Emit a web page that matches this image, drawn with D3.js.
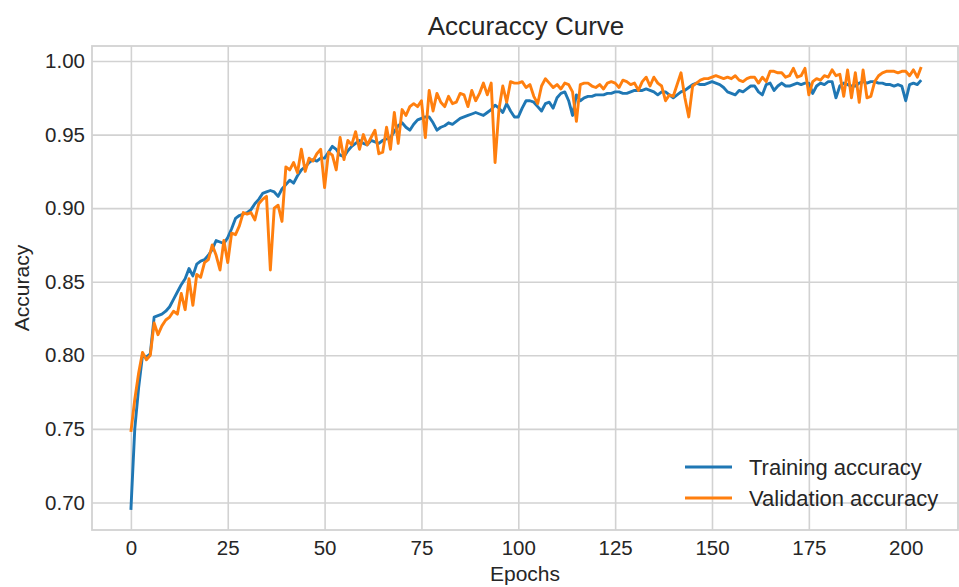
<!DOCTYPE html>
<html>
<head>
<meta charset="utf-8">
<script src="https://cdn.jsdelivr.net/npm/d3@7"></script>
<style>
    body { margin: 0; background: #fff; }
    text { font-family: "Liberation Sans", Arial, sans-serif; fill: #262626; }
</style>
</head>
<body>
<div id="chart"></div>
<script>
// accuracy per epoch
const trainingAccuracy = [
    0.695, 0.750, 0.778, 0.800, 0.799, 0.801, 0.826, 0.827, 0.828, 0.830,
    0.833, 0.838, 0.843, 0.848, 0.852, 0.859, 0.854, 0.862, 0.864, 0.865,
    0.868, 0.872, 0.878, 0.877, 0.876, 0.880, 0.886, 0.893, 0.895, 0.896,
    0.897, 0.899, 0.903, 0.906, 0.910, 0.911, 0.912, 0.911, 0.908, 0.913,
    0.916, 0.919, 0.917, 0.922, 0.926, 0.928, 0.931, 0.933, 0.932, 0.934,
    0.934, 0.938, 0.942, 0.940, 0.936, 0.935, 0.939, 0.942, 0.944, 0.946,
    0.944, 0.943, 0.946, 0.945, 0.944, 0.946, 0.947, 0.948, 0.952, 0.956,
    0.958, 0.955, 0.953, 0.957, 0.960, 0.961, 0.962, 0.962, 0.958, 0.953,
    0.955, 0.956, 0.958, 0.957, 0.959, 0.961, 0.962, 0.963, 0.964, 0.965,
    0.964, 0.963, 0.965, 0.967, 0.970, 0.968, 0.965, 0.971, 0.966, 0.962,
    0.962, 0.968, 0.973, 0.973, 0.972, 0.969, 0.966, 0.971, 0.972, 0.968,
    0.975, 0.978, 0.979, 0.973, 0.963, 0.977, 0.973, 0.975, 0.976, 0.976,
    0.977, 0.977, 0.977, 0.978, 0.978, 0.979, 0.979, 0.978, 0.978, 0.979,
    0.980, 0.980, 0.980, 0.981, 0.980, 0.979, 0.977, 0.979, 0.979, 0.977,
    0.975, 0.977, 0.979, 0.980, 0.982, 0.984, 0.985, 0.984, 0.984, 0.985,
    0.986, 0.985, 0.984, 0.982, 0.979, 0.978, 0.977, 0.980, 0.979, 0.981,
    0.983, 0.983, 0.979, 0.977, 0.984, 0.985, 0.980, 0.983, 0.985, 0.983,
    0.983, 0.984, 0.985, 0.984, 0.985, 0.985, 0.978, 0.983, 0.985, 0.984,
    0.986, 0.986, 0.975, 0.983, 0.985, 0.984, 0.983, 0.983, 0.985, 0.986,
    0.985, 0.986, 0.986, 0.985, 0.985, 0.984, 0.984, 0.983, 0.984, 0.983,
    0.973, 0.984, 0.985, 0.984, 0.987
];

const validationAccuracy = [
    0.748, 0.770, 0.788, 0.802, 0.797, 0.800, 0.822, 0.814, 0.820, 0.824,
    0.826, 0.830, 0.828, 0.842, 0.831, 0.852, 0.834, 0.855, 0.853, 0.863,
    0.865, 0.875, 0.868, 0.858, 0.878, 0.863, 0.883, 0.882, 0.888, 0.897,
    0.896, 0.897, 0.892, 0.903, 0.906, 0.908, 0.858, 0.900, 0.902, 0.891,
    0.928, 0.926, 0.931, 0.924, 0.940, 0.925, 0.934, 0.932, 0.937, 0.940,
    0.914, 0.938, 0.936, 0.926, 0.948, 0.933, 0.946, 0.943, 0.952, 0.940,
    0.950, 0.943, 0.948, 0.953, 0.937, 0.938, 0.955, 0.940, 0.965, 0.944,
    0.967, 0.963, 0.969, 0.971, 0.969, 0.973, 0.948, 0.980, 0.966, 0.978,
    0.972, 0.969, 0.976, 0.971, 0.972, 0.978, 0.977, 0.969, 0.980, 0.973,
    0.978, 0.985, 0.977, 0.985, 0.931, 0.967, 0.983, 0.972, 0.986, 0.985,
    0.985, 0.986, 0.982, 0.984, 0.976, 0.971, 0.983, 0.988, 0.985, 0.982,
    0.984, 0.981, 0.985, 0.984, 0.979, 0.959, 0.984, 0.985, 0.985, 0.983,
    0.982, 0.984, 0.981, 0.985, 0.986, 0.985, 0.982, 0.987, 0.986, 0.984,
    0.985, 0.980, 0.986, 0.989, 0.983, 0.989, 0.985, 0.983, 0.973, 0.977,
    0.976, 0.984, 0.992, 0.975, 0.962, 0.983, 0.985, 0.987, 0.988, 0.988,
    0.989, 0.990, 0.989, 0.988, 0.989, 0.988, 0.990, 0.987, 0.986, 0.988,
    0.989, 0.989, 0.985, 0.989, 0.986, 0.993, 0.993, 0.992, 0.992, 0.989,
    0.990, 0.995, 0.989, 0.990, 0.995, 0.977, 0.986, 0.988, 0.987, 0.990,
    0.989, 0.994, 0.990, 0.991, 0.976, 0.994, 0.975, 0.992, 0.972, 0.994,
    0.975, 0.976, 0.986, 0.990, 0.992, 0.993, 0.993, 0.993, 0.992, 0.993,
    0.993, 0.990, 0.994, 0.989, 0.996
];

const seriesNames = ["Training accuracy", "Validation accuracy"];
const seriesColors = ["#1f77b4", "#ff7f0e"];
const xTicks = [0, 25, 50, 75, 100, 125, 150, 175, 200];
const yTicks = [0.70, 0.75, 0.80, 0.85, 0.90, 0.95, 1.00];

const width = 959;
const height = 587;
const plot = { left: 92, right: 958, top: 46, bottom: 530 };
const gridColor = "#d2d2d2";

const svg = d3.select("#chart")
    .append("svg")
        .attr("width", width)
        .attr("height", height);

// axis limits as in the picture (matplotlib style padding around the data)
const x = d3.scaleLinear()
    .domain([-10.04, 213.5])
    .range([plot.left, plot.right]);

const y = d3.scaleLinear()
    .domain([0.6813, 1.0102])
    .range([plot.bottom, plot.top]);

// grid
const xAxis = svg.append("g")
    .attr("transform", `translate(0, ${plot.bottom})`)
    .call(d3.axisBottom(x)
        .tickValues(xTicks)
        .tickSize(-(plot.bottom - plot.top))
        .tickPadding(10)
        .tickFormat(d3.format("d")));

const yAxis = svg.append("g")
    .attr("transform", `translate(${plot.left}, 0)`)
    .call(d3.axisLeft(y)
        .tickValues(yTicks)
        .tickSize(-(plot.right - plot.left))
        .tickPadding(7)
        .tickFormat(d3.format(".2f")));

[xAxis, yAxis].forEach(axis => {
    axis.select(".domain").remove();
    axis.selectAll(".tick line")
        .attr("stroke", gridColor)
        .attr("stroke-width", 1.6);
    axis.selectAll(".tick text")
        .style("font-size", "20.5px")
        .attr("fill", "#262626");
});

// frame
svg.append("rect")
    .attr("x", plot.left)
    .attr("y", plot.top)
    .attr("width", plot.right - plot.left)
    .attr("height", plot.bottom - plot.top)
    .attr("fill", "none")
    .attr("stroke", gridColor)
    .attr("stroke-width", 1.8);

// lines
const line = d3.line()
    .x((d, i) => x(i))
    .y(d => y(d));

[trainingAccuracy, validationAccuracy].forEach((series, k) => {
    svg.append("path")
        .datum(series)
        .attr("fill", "none")
        .attr("stroke", seriesColors[k])
        .attr("stroke-width", 2.9)
        .attr("stroke-linejoin", "round")
        .attr("d", line);
});

// titles
svg.append("text")
    .attr("x", (plot.left + plot.right) / 2 + 1)
    .attr("y", 35)
    .attr("text-anchor", "middle")
    .style("font-size", "26px")
    .text("Accuraccy Curve");

// the reference crops this label at the bottom edge; keep it just inside
svg.append("text")
    .attr("x", (plot.left + plot.right) / 2)
    .attr("y", 581)
    .attr("text-anchor", "middle")
    .style("font-size", "21px")
    .text("Epochs");

svg.append("text")
    .attr("transform", `translate(29, ${(plot.top + plot.bottom) / 2}) rotate(-90)`)
    .attr("text-anchor", "middle")
    .style("font-size", "21px")
    .text("Accuracy");

// legend, no frame
const legend = svg.append("g")
    .attr("transform", "translate(685, 467)");

seriesNames.forEach((name, k) => {
    const row = legend.append("g")
        .attr("transform", `translate(0, ${k * 31})`);
    row.append("line")
        .attr("x1", 0)
        .attr("x2", 47)
        .attr("stroke", seriesColors[k])
        .attr("stroke-width", 2.9);
    row.append("text")
        .attr("x", 64)
        .attr("dy", "0.35em")
        .style("font-size", "22px")
        .text(name);
});
</script>
</body>
</html>
